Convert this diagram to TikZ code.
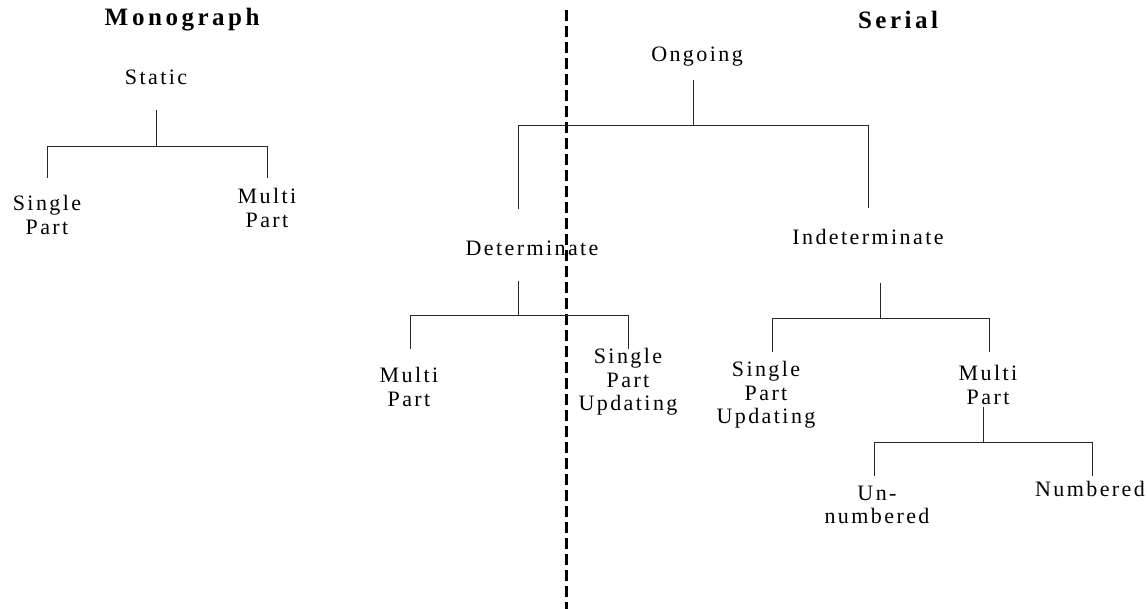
\documentclass[tikz,border=0pt]{standalone}
\usepackage{fontspec}
\setmainfont{Liberation Serif}[LetterSpace=11]
\newfontfamily\titlefont{Liberation Serif}[LetterSpace=14]
\begin{document}
\begin{tikzpicture}[x=1pt,y=-1pt,
  lbl/.style={align=center,inner sep=0pt,font=\fontsize{22}{23.5}\selectfont},
  ttl/.style={inner sep=0pt,font=\titlefont\bfseries\fontsize{25}{28}\selectfont},
  link/.style={line width=0.9pt,draw=black!85},
  divider/.style={line width=3pt,dash pattern=on 11pt off 5pt}]
\useasboundingbox (0,0) rectangle (1147,609);
% titles
\node[ttl] (mono) at (182,20) {M\kern4pt onograph};
\node[ttl] (serial) at (898,20) {Serial};
% monograph tree
\node[lbl] (static) at (156,77) {Static};
\node[lbl] (msp) at (47,215) {Single\\Part};
\node[lbl] (mmp) at (267,208) {Multi\\Part};
\draw[link] (static.center |- 0,110) -- (static.center |- 0,146);
\draw[link] (msp.center |- 0,178) |- (mmp.center |- 0,146) -- (mmp.center |- 0,178);
% divider
\coordinate (dtop) at (566,10);
\coordinate (dbot) at (566,609);
\draw[divider] (dtop) -- (dbot);
% serial tree
\node[lbl] (ongoing) at (697,57) {Ongoing};
\node[lbl] (det) at (532,248) {Determinate};
\node[lbl] (indet) at (868,237) {Indeterminate};
\draw[link] (693,80) -- (693,125);
\draw[link] (518,209) |- (868,125) -- (868,208);
% determinate
\node[lbl] (dmp) at (409,387) {Multi\\Part};
\node[lbl] (dsp) at (628,382) {Single\\Part\\Updating};
\draw[link] (518,281) -- (518,315);
\draw[link] (410,349) |- (628,315) -- (628,349);
% indeterminate
\node[lbl] (isp) at (766,395) {Single\\Part\\Updating};
\node[lbl] (imp) at (988,385) {Multi\\Part};
\draw[link] (880,283) -- (880,318);
\draw[link] (772,352) |- (989,318) -- (989,352);
% multi part
\node[lbl] (unnum) at (877,505) {Un-\\numbered};
\node[lbl] (num) at (1090,489) {Numbered};
\draw[link] (983,407) -- (983,442);
\draw[link] (874,476) |- (1092,442) -- (1092,476);
\end{tikzpicture}
\end{document}
